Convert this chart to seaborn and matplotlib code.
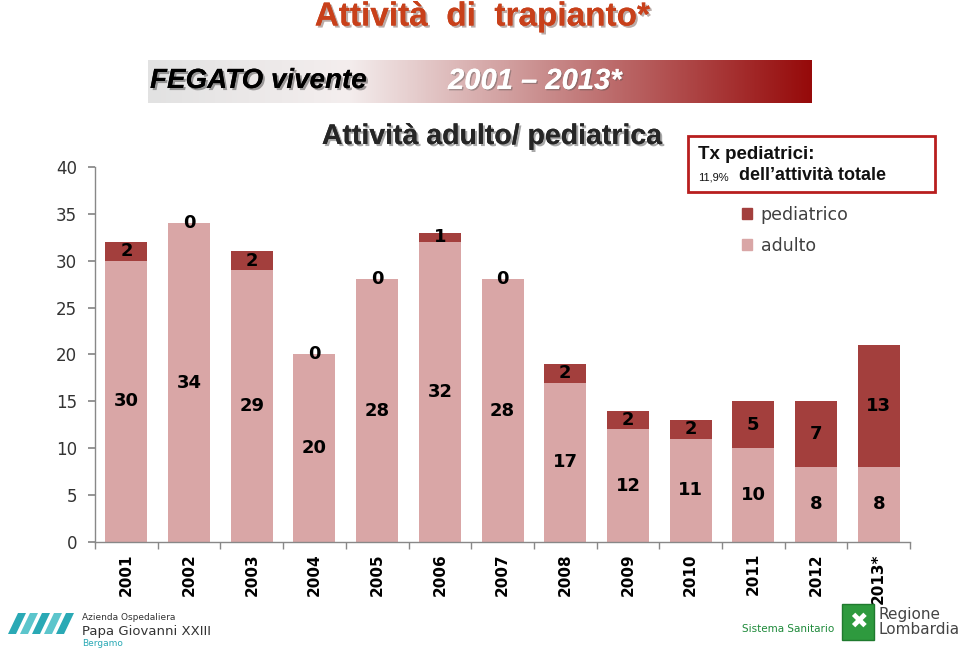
import numpy as np
import pandas as pd
import matplotlib.pyplot as plt
import matplotlib.patheffects as pe
from matplotlib.colors import LinearSegmentedColormap
from matplotlib.patches import Rectangle, Polygon, Patch, FancyBboxPatch
import seaborn as sns

sns.set_theme(style="white")
plt.rcParams['font.family'] = ['DejaVu Sans']

# data
years = ["2001", "2002", "2003", "2004", "2005", "2006", "2007",
         "2008", "2009", "2010", "2011", "2012", "2013*"]
adulto = [30, 34, 29, 20, 28, 32, 28, 17, 12, 11, 10, 8, 8]
pediatrico = [2, 0, 2, 0, 0, 1, 0, 2, 2, 2, 5, 7, 13]

df = pd.DataFrame({"anno": years, "adulto": adulto, "pediatrico": pediatrico})
df["totale"] = df["adulto"] + df["pediatrico"]

c_adulto = "#D9A6A6"
c_ped = "#A33F3D"

fig = plt.figure(figsize=(9.6, 6.53), dpi=100)
ax = fig.add_axes([0.099, 0.17, 0.849, 0.5743])

# stacked bars: total first (pediatric colour), adult on top of it
sns.barplot(data=df, x="anno", y="totale", color=c_ped, width=0.67,
            saturation=1, linewidth=0, ax=ax)
sns.barplot(data=df, x="anno", y="adulto", color=c_adulto, width=0.67,
            saturation=1, linewidth=0, ax=ax)

# labels
for i, row in df.iterrows():
    ax.text(i, row["adulto"] / 2, str(row["adulto"]), ha="center", va="center",
            fontsize=13, fontweight="bold", color="black")
    ax.text(i, row["adulto"] + row["pediatrico"] / 2, str(row["pediatrico"]),
            ha="center", va="center", fontsize=13, fontweight="bold", color="black")

ax.set_ylim(0, 40)
ax.set_xlim(-0.5, len(years) - 0.5)
ax.set_yticks(range(0, 41, 5))
ax.set_xlabel("")
ax.set_ylabel("")
ax.set_xticks(range(len(years)))
ax.set_xticklabels(years, rotation=90, fontsize=11, fontweight="bold", color="black")
ax.set_xticks(np.arange(-0.5, len(years), 1), minor=True)
ax.tick_params(axis="x", which="major", length=0, pad=8)
ax.tick_params(axis="x", which="minor", length=5, color="#888888", direction="out")
ax.tick_params(axis="y", length=5, color="#888888", direction="out", pad=8,
               labelsize=12, labelcolor="#333333")
ax.yaxis.set_ticks_position("left")
ax.xaxis.set_ticks_position("bottom")
for s in ["top", "right"]:
    ax.spines[s].set_visible(False)
for s in ["left", "bottom"]:
    ax.spines[s].set_color("#888888")
    ax.spines[s].set_linewidth(1)

# legend
handles = [Patch(color=c_ped, label="pediatrico"), Patch(color=c_adulto, label="adulto")]
fig.legend(handles=handles, loc="upper left", bbox_to_anchor=(726 / 960, 1 - 190 / 653),
           frameon=False, fontsize=12.5, handlelength=0.6, handleheight=0.6,
           handletextpad=0.5, labelspacing=0.75, labelcolor="#404040")

# title
shadow = [pe.withSimplePatchShadow(offset=(1.5, -1.5), alpha=0.35), pe.Normal()]
fig.text(483 / 960, 1 - 17 / 653, "Attività  di  trapianto*", ha="center", va="center",
         fontsize=24, fontweight="bold", color="#C8401A", family="Liberation Sans",
         path_effects=shadow)

# banner with gradient
bax = fig.add_axes([148 / 960, 1 - 103 / 653, 664 / 960, 43 / 653])
cmap = LinearSegmentedColormap.from_list(
    "banner", [(0, "#e2e2e2"), (0.3, "#f4eeee"), (0.6, "#c98c8c"), (1, "#960a0a")])
bax.imshow(np.linspace(0, 1, 256).reshape(1, -1), aspect="auto", cmap=cmap,
           extent=[0, 1, 0, 1])
bax.axis("off")
fig.text(150 / 960, 1 - 81 / 653, "FEGATO vivente", ha="left", va="center",
         fontsize=20, fontweight="bold", style="italic", color="black",
         family="Liberation Sans", path_effects=shadow)
fig.text(535 / 960, 1 - 81 / 653, "2001 – 2013*", ha="center", va="center",
         fontsize=21, fontweight="bold", style="italic", color="white",
         family="Liberation Sans",
         path_effects=[pe.withSimplePatchShadow(offset=(1, -1), alpha=0.4), pe.Normal()])

# subtitle
fig.text(492 / 960, 1 - 137 / 653, "Attività adulto/ pediatrica", ha="center", va="center",
         fontsize=20.5, fontweight="bold", color="#262626", family="Liberation Sans",
         path_effects=shadow)

# box
fig.patches.append(Rectangle((688 / 960, 1 - 192 / 653), 247 / 960, 56 / 653,
                             transform=fig.transFigure, fill=False,
                             edgecolor="#B81E1E", linewidth=2))
fig.text(698 / 960, 1 - 154 / 653, "Tx pediatrici:", ha="left", va="center",
         fontsize=13.5, fontweight="bold", color="#111111", family="Liberation Sans")
fig.text(698 / 960, 1 - 177 / 653, "11,9%", ha="left", va="center",
         fontsize=8, color="#111111", family="Liberation Sans")
fig.text(739 / 960, 1 - 176 / 653, "dell’attività totale", ha="left", va="center",
         fontsize=13, fontweight="bold", color="#111111", family="Liberation Sans")

# footer logos
teal = "#2aa9b5"
for k in range(5):
    x0 = 8 + k * 12
    fig.patches.append(Polygon([((x0) / 960, 1 - 634 / 653), ((x0 + 8) / 960, 1 - 634 / 653),
                                ((x0 + 18) / 960, 1 - 613 / 653), ((x0 + 10) / 960, 1 - 613 / 653)],
                               closed=True, transform=fig.transFigure,
                               facecolor=teal if k % 2 == 0 else "#5cc5cc", edgecolor="none"))
fig.text(82 / 960, 1 - 617 / 653, "Azienda Ospedaliera", ha="left", va="center",
         fontsize=6.5, color="#333333")
fig.text(82 / 960, 1 - 631 / 653, "Papa Giovanni XXIII", ha="left", va="center",
         fontsize=9.5, color="#333333")
fig.text(82 / 960, 1 - 643 / 653, "Bergamo", ha="left", va="center",
         fontsize=6.5, color=teal)

fig.text(742 / 960, 1 - 629 / 653, "Sistema Sanitario", ha="left", va="center",
         fontsize=7.5, color="#1e8a3a")
fig.patches.append(FancyBboxPatch((842 / 960, 1 - 640 / 653), 32 / 960, 36 / 653,
                                  boxstyle="square,pad=0", transform=fig.transFigure,
                                  facecolor="#2e9a3e", edgecolor="#1f7a2e"))
fig.text(858 / 960, 1 - 622 / 653, "✖", ha="center", va="center", fontsize=16,
         color="white")
fig.text(878 / 960, 1 - 615 / 653, "Regione", ha="left", va="center",
         fontsize=11, color="#444444")
fig.text(878 / 960, 1 - 630 / 653, "Lombardia", ha="left", va="center",
         fontsize=11, color="#444444")

fig.savefig("out.png", dpi=100)
